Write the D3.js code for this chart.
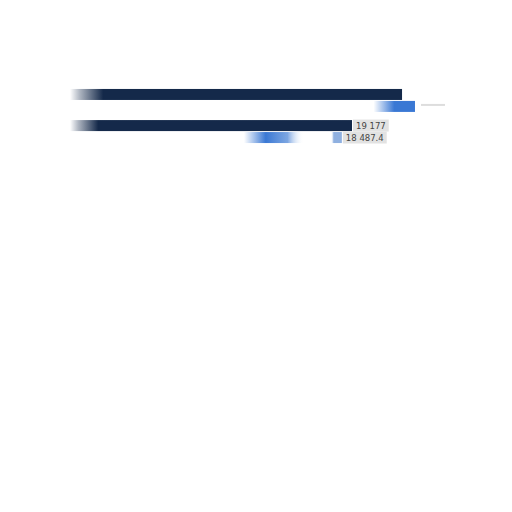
<!DOCTYPE html>
<html>
<head>
<meta charset="utf-8">
<script src="https://cdn.jsdelivr.net/npm/d3@7"></script>
<style>
  html, body { margin: 0; padding: 0; background: #fff; }
  svg { display: block; font-family: "DejaVu Sans", sans-serif; }
</style>
</head>
<body>
<div id="chart"></div>
<script>
// data
const categories = ["A", "B"];
const series = ["prev", "curr"];
const prevValues = [22580, 19177];
const currValues = [23460, 18487.4];
const labelText = [null, null, "19 177", "18 487.4"];

const width = 512, height = 512;
const svg = d3.select("#chart").append("svg")
    .attr("width", width)
    .attr("height", height);

const x = d3.scaleLinear().domain([0, 19177]).range([70, 352]);
const y = d3.scaleBand().domain(categories).range([88, 144]).paddingInner(0.2).paddingOuter(0);
const ys = d3.scaleBand().domain(series).range([0, y.bandwidth()]).padding(0.08);

const defs = svg.append("defs");

// faded left edges, like the original blurry render
const grads = [
    { id: "g-dark", stops: [[0, "#14294a", 0], [0.03, "#14294a", 0.35], [0.1, "#14294a", 1], [1, "#14294a", 1]] },
    { id: "g-blue0", stops: [[0, "#3a78d4", 0], [0.88, "#3a78d4", 0], [0.94, "#3a78d4", 1], [1, "#3a78d4", 1]] },
    { id: "g-blue1", stops: [[0, "#3a78d4", 0], [0.64, "#3a78d4", 0], [0.72, "#3a78d4", 1], [0.8, "#5b8fda", 0.8], [0.86, "#ffffff", 0], [0.96, "#ffffff", 0], [0.97, "#8fb0e0", 1], [1, "#8fb0e0", 1]] }
];
grads.forEach(g => {
    const lg = defs.append("linearGradient").attr("id", g.id)
        .attr("x1", "0%").attr("x2", "100%").attr("y1", "0%").attr("y2", "0%");
    g.stops.forEach(s => lg.append("stop")
        .attr("offset", s[0]).attr("stop-color", s[1]).attr("stop-opacity", s[2]));
});

const rows = [];
categories.forEach((c, i) => {
    rows.push({ cat: c, s: "prev", v: prevValues[i], fill: "url(#g-dark)" });
    rows.push({ cat: c, s: "curr", v: currValues[i], fill: "url(#g-blue" + i + ")" });
});

svg.selectAll("rect.bar")
    .data(rows)
    .join("rect")
    .attr("class", "bar")
    .attr("x", x(0))
    .attr("y", d => y(d.cat) + ys(d.s))
    .attr("width", d => x(d.v) - x(0))
    .attr("height", ys.bandwidth())
    .attr("fill", d => d.fill);

// value labels
const lab = svg.selectAll("g.lab")
    .data(rows.map((d, i) => Object.assign({}, d, { t: labelText[i] })).filter(d => d.t))
    .join("g")
    .attr("class", "lab")
    .attr("transform", d => `translate(${x(d.v) + 1},${y(d.cat) + ys(d.s) + ys.bandwidth() / 2})`);

lab.append("text")
    .attr("x", 3)
    .attr("dy", "0.35em")
    .attr("font-size", 8.5)
    .attr("fill", "#444")
    .text(d => d.t);

lab.each(function () {
    const g = d3.select(this);
    const b = g.select("text").node().getBBox();
    g.insert("rect", "text")
        .attr("x", 0).attr("y", b.y - 1)
        .attr("width", b.width + 6).attr("height", b.height + 2)
        .attr("fill", "#e2e2e2");
});

// faint trailing smudge after first blue bar
svg.append("line")
    .attr("x1", x(currValues[0]) + 6).attr("x2", x(currValues[0]) + 30)
    .attr("y1", y("A") + ys("curr") + 4).attr("y2", y("A") + ys("curr") + 4)
    .attr("stroke", "#ddd").attr("stroke-width", 2);
</script>
</body>
</html>
